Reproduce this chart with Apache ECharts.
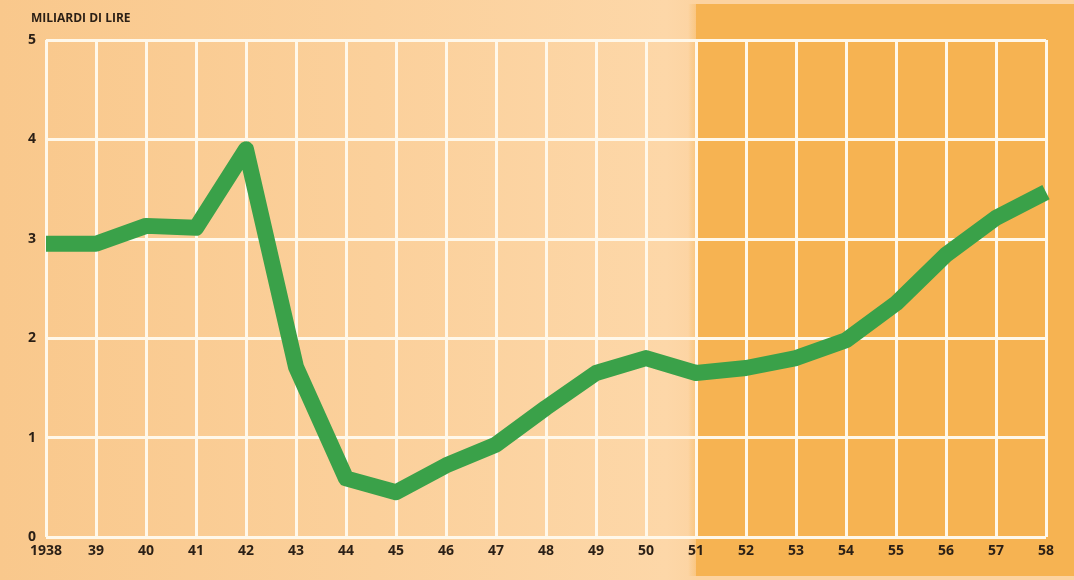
<!DOCTYPE html>
<html>
<head>
<meta charset="utf-8">
<script src="https://cdn.jsdelivr.net/npm/echarts@6/dist/echarts.min.js"></script>
<style>
  html, body { margin: 0; padding: 0; background: #fbefdf; }
  #chart {
    width: 1074px;
    height: 580px;
    background: linear-gradient(to right, #f9c88c 0%, #fbd09b 35%, #fdd7a8 62%, #fcd3a1 65%);
  }
</style>
</head>
<body>
<div id="chart"></div>
<script>
const years = ["1938", "39", "40", "41", "42", "43", "44", "45", "46", "47", "48",
  "49", "50", "51", "52", "53", "54", "55", "56", "57", "58"];
// miliardi di lire
const values = [2.95, 2.95, 3.13, 3.11, 3.9, 1.71, 0.59, 0.45, 0.72, 0.93, 1.3,
  1.65, 1.8, 1.65, 1.7, 1.8, 1.98, 2.35, 2.84, 3.21, 3.47];
const darkFromYear = "51";

const labelFont = "'Open Sans', 'DejaVu Sans', sans-serif";
const chart = echarts.init(document.getElementById("chart"));

const option = {
  animation: false,
  backgroundColor: "transparent",
  title: {
    text: "MILIARDI DI LIRE",
    left: 26,
    top: 8,
    textStyle: {
      color: "#2a1f16",
      fontFamily: labelFont,
      fontWeight: "bold",
      fontSize: 12,
    },
  },
  grid: { left: 46, right: 28, top: 40, bottom: 43 },
  xAxis: {
    type: "category",
    data: years,
    boundaryGap: false,
    axisLine: { show: false },
    axisTick: { show: false },
    axisLabel: {
      color: "#2a1f16",
      fontFamily: labelFont,
      fontWeight: "bold",
      fontSize: 14,
      margin: 7,
      interval: 0,
    },
    splitLine: {
      show: true,
      interval: 0,
      lineStyle: { color: "#fff8ea", width: 3 },
    },
  },
  yAxis: {
    type: "value",
    min: 0,
    max: 5,
    interval: 1,
    axisLine: { show: false },
    axisTick: { show: false },
    axisLabel: {
      color: "#2a1f16",
      fontFamily: labelFont,
      fontWeight: "bold",
      fontSize: 14,
      margin: 10,
    },
    splitLine: { lineStyle: { color: "#fff8ea", width: 3 } },
  },
  series: [
    {
      type: "line",
      data: values,
      showSymbol: false,
      symbol: "none",
      z: 5,
      lineStyle: { color: "#3aa149", width: 16, join: "round", cap: "butt" },
    },
  ],
};

chart.setOption(option);

// darker orange panel from 1951 to the right edge
const darkX = chart.convertToPixel({ xAxisIndex: 0 }, darkFromYear);
chart.setOption({
  graphic: [
    {
      type: "rect",
      z: -10,
      silent: true,
      shape: { x: darkX, y: 4, width: 1074 - darkX, height: 572 },
      style: { fill: "#f6b352" },
    },
    {
      type: "rect",
      z: -10,
      silent: true,
      shape: { x: darkX - 8, y: 4, width: 8, height: 572 },
      style: {
        fill: new echarts.graphic.LinearGradient(0, 0, 1, 0, [
          { offset: 0, color: "rgba(246,179,82,0)" },
          { offset: 1, color: "rgba(246,179,82,0.4)" },
        ]),
      },
    },
  ],
});
</script>
</body>
</html>
